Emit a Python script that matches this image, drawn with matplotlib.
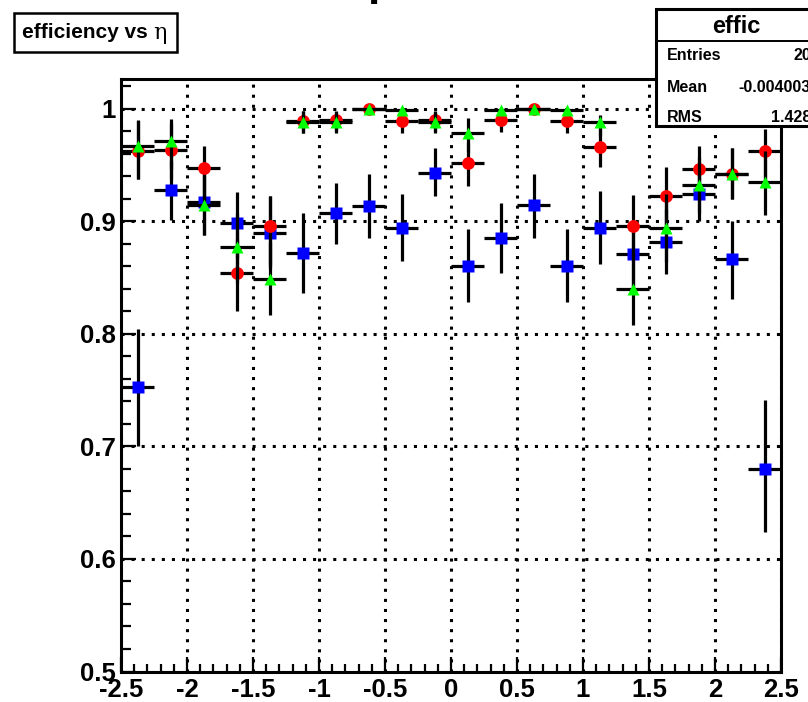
import numpy as np
import matplotlib
matplotlib.use("Agg")
import matplotlib.pyplot as plt
from matplotlib.patches import Rectangle
from matplotlib.lines import Line2D
from matplotlib.ticker import MultipleLocator, FixedLocator

W, H = 808, 702

# eta bins: 20 bins of width 0.25 between -2.5 and 2.5
eta_centers = np.arange(-2.375, 2.5, 0.25)
eta_halfwidth = 0.125

# efficiency (red circles)
eff_red = [0.962, 0.963, 0.947, 0.854, 0.896, 0.989, 0.990, 1.000, 0.989, 0.990,
           0.952, 0.990, 1.000, 0.989, 0.966, 0.896, 0.922, 0.946, 0.942, 0.962]
red_lo = [0.025, 0.026, 0.030, 0.034, 0.035, 0.011, 0.010, 0.004, 0.011, 0.010,
          0.021, 0.011, 0.004, 0.011, 0.018, 0.030, 0.030, 0.025, 0.022, 0.028]
red_hi = [0.027, 0.024, 0.020, 0.030, 0.026, 0.009, 0.008, 0.000, 0.009, 0.008,
          0.018, 0.009, 0.000, 0.009, 0.016, 0.027, 0.026, 0.021, 0.023, 0.020]

# efficiency (green triangles)
eff_green = [0.967, 0.971, 0.914, 0.877, 0.849, 0.988, 0.988, 1.000, 0.999, 0.988,
             0.978, 0.999, 1.000, 0.999, 0.988, 0.840, 0.894, 0.932, 0.942, 0.935]
green_lo = [0.030, 0.025, 0.026, 0.032, 0.032, 0.010, 0.010, 0.004, 0.005, 0.010,
            0.017, 0.005, 0.004, 0.005, 0.012, 0.032, 0.030, 0.025, 0.022, 0.030]
green_hi = [0.023, 0.020, 0.027, 0.030, 0.032, 0.010, 0.009, 0.000, 0.001, 0.009,
            0.014, 0.001, 0.000, 0.001, 0.006, 0.033, 0.030, 0.025, 0.023, 0.027]

# efficiency (blue squares)
eff_blue = [0.753, 0.928, 0.917, 0.898, 0.889, 0.872, 0.907, 0.913, 0.894, 0.943,
            0.860, 0.885, 0.914, 0.860, 0.894, 0.871, 0.881, 0.924, 0.866, 0.680]
blue_lo = [0.053, 0.027, 0.029, 0.031, 0.031, 0.036, 0.027, 0.028, 0.029, 0.021,
           0.032, 0.031, 0.029, 0.032, 0.032, 0.030, 0.028, 0.024, 0.035, 0.056]
blue_hi = [0.051, 0.025, 0.027, 0.028, 0.033, 0.035, 0.027, 0.029, 0.030, 0.022,
           0.033, 0.031, 0.028, 0.033, 0.033, 0.030, 0.030, 0.025, 0.034, 0.061]

x_ticks = [-2.5, -2, -1.5, -1, -0.5, 0, 0.5, 1, 1.5, 2, 2.5]
x_ticklabels = ["-2.5", "-2", "-1.5", "-1", "-0.5", "0", "0.5", "1", "1.5", "2", "2.5"]
y_ticks = [0.5, 0.6, 0.7, 0.8, 0.9, 1.0]
y_ticklabels = ["0.5", "0.6", "0.7", "0.8", "0.9", "1"]

stats_rows = [("Entries", "20"), ("Mean", "-0.004003"), ("RMS", "1.428")]

plt.rcParams["font.family"] = ["Liberation Sans", "DejaVu Sans"]
plt.rcParams["font.weight"] = "bold"


def fx(px):
    return px / W


def fy(py):
    return 1 - py / H


fig = plt.figure(figsize=(W / 100, H / 100), dpi=100)
ax_l, ax_r, ax_t, ax_b = 121, 781, 79, 671.5
ax = fig.add_axes([fx(ax_l), fy(ax_b), (ax_r - ax_l) / W, (ax_b - ax_t) / H])

ax.set_xlim(-2.5, 2.5)
ax.set_ylim(0.5, 0.5 + (ax_b - ax_t) / 1126)

series = [
    (eff_blue, blue_lo, blue_hi, "s", "#0000ff", 9.0),
    (eff_red, red_lo, red_hi, "o", "#ff0000", 9.2),
    (eff_green, green_lo, green_hi, "^", "#00ff00", 8.4),
]
for z, (vals, lo, hi, mk, col, ms) in enumerate(series):
    ax.errorbar(eta_centers, vals, xerr=eta_halfwidth, yerr=[lo, hi],
                fmt=mk, color=col, mec="none", ms=ms, ecolor="black",
                elinewidth=2.3, capsize=0, zorder=3 + z)

ax.xaxis.set_major_locator(FixedLocator(x_ticks))
ax.set_xticklabels(x_ticklabels)
ax.xaxis.set_minor_locator(MultipleLocator(0.1))
ax.yaxis.set_major_locator(FixedLocator(y_ticks))
ax.set_yticklabels(y_ticklabels)
ax.yaxis.set_minor_locator(MultipleLocator(0.02))

ax.tick_params(which="both", direction="in", top=False, right=False,
               width=1.6, color="black")
ax.tick_params(axis="x", which="major", length=11, pad=4.5, labelsize=18.5)
ax.tick_params(axis="x", which="minor", length=6)
ax.tick_params(axis="y", which="major", length=11, pad=3.5, labelsize=18.5)
ax.tick_params(axis="y", which="minor", length=7)
for lab in ax.get_xticklabels() + ax.get_yticklabels():
    lab.set_fontweight("bold")

ax.grid(True, which="major", color="black", linestyle=(0, (1, 2.3)),
        linewidth=2.2, zorder=1)
ax.set_axisbelow(True)
for sp in ax.spines.values():
    sp.set_linewidth(2.2)

# title box
fig.add_artist(Rectangle((fx(14), fy(52)), (177 - 14) / W, (52 - 13) / H,
                         transform=fig.transFigure, fill=False,
                         edgecolor="black", linewidth=1.8))
fig.text(fx(22), fy(38.5), "efficiency vs", fontsize=15, fontweight="bold",
         ha="left", va="baseline")
fig.text(fx(153), fy(38.5), "η", fontsize=16, fontweight="normal",
         family="DejaVu Serif", ha="left", va="baseline")

# descender of the canvas label above the frame
fig.text(fx(367), fy(-5), "p", fontsize=32, fontweight="bold",
         ha="left", va="baseline")

# statistics box
fig.add_artist(Rectangle((fx(656), fy(126)), (816 - 656) / W, (126 - 9) / H,
                         transform=fig.transFigure, facecolor="white",
                         edgecolor="black", linewidth=2.2, zorder=10))
fig.add_artist(Line2D([fx(656), fx(816)], [fy(41), fy(41)],
                      transform=fig.transFigure, color="black",
                      linewidth=1.4, zorder=11))
fig.text(fx(736), fy(33), "effic", fontsize=17, fontweight="bold",
         ha="center", va="baseline", zorder=12)
for i, (name, val) in enumerate(stats_rows):
    base = 60.5 + 31 * i
    fig.text(fx(667), fy(base), name, fontsize=11.5, fontweight="bold",
             ha="left", va="baseline", zorder=12)
    fig.text(fx(811), fy(base), val, fontsize=11.5, fontweight="bold",
             ha="right", va="baseline", zorder=12)

fig.savefig("out.png", dpi=100)
